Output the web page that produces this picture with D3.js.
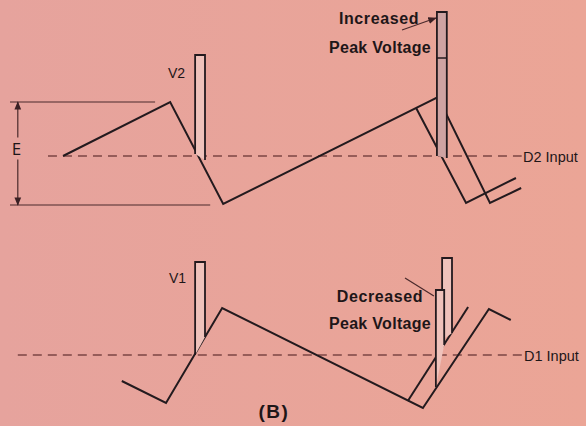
<!DOCTYPE html>
<html>
<head>
<meta charset="utf-8">
<script src="https://cdn.jsdelivr.net/npm/d3@7"></script>
<style>
  body { margin: 0; background: #e8a49b; }
  svg { display: block; }
  text { font-family: "Liberation Sans", Arial, sans-serif; fill: #1e1618; }
</style>
</head>
<body>
<div id="chart"></div>
<script>
// time in arbitrary units (0..100), volts relative to the diode input level

// upper panel (D2)
var d2Time = [10.2, 30.8, 41.0, 82.3, 92.3, 98.3];
var d2Volts = [0, 54, -48, 59, -47, -32];
var d2ShiftTime = [78.1, 87.7, 97.3];
var d2ShiftVolts = [48, -47, -22];

// lower panel (D1)
var d1Time = [21.5, 30.0, 40.8, 79.4, 92.1, 96.3];
var d1Volts = [-26, -48, 47, -53, 46, 35];
var d1ShiftTime = [76.5, 88.1];
var d1ShiftVolts = [-46, 48];

// pulses
var pulsePanel = ["D2", "D2", "D1", "D1", "D1"];
var pulseStart = [35.6, 82.1, 35.6, 83.1, 81.9];
var pulseEnd = [37.5, 84.0, 37.5, 85.0, 83.5];
var pulsePeak = [101, 144, 93, 97, 65];
var pulseBaseL = [2, 0, 0, 15, -32];
var pulseBaseR = [-4, -2, 18, 22, 10];

// E bracket (peak-to-peak of the D2 sawtooth)
var eTop = 54, eBottom = -49;
var oldPeak = 98; // mark on the increased pulse

var width = 586, height = 426;

var svg = d3.select("#chart").append("svg")
  .attr("width", width)
  .attr("height", height);

var grad = svg.append("defs").append("linearGradient")
  .attr("id", "bg").attr("x1", 0).attr("x2", 1).attr("y1", 0).attr("y2", 0);
grad.append("stop").attr("offset", "0%").attr("stop-color", "#e6a39d");
grad.append("stop").attr("offset", "100%").attr("stop-color", "#eba596");

svg.select("defs").append("marker")
  .attr("id", "arr")
  .attr("viewBox", "0 0 10 10")
  .attr("refX", 9).attr("refY", 5)
  .attr("markerWidth", 7).attr("markerHeight", 7)
  .attr("orient", "auto")
  .append("path")
  .attr("d", "M0,1L10,5L0,9Z")
  .style("fill", "#3a2024");

svg.append("rect").attr("width", width).attr("height", height).style("fill", "url(#bg)");

var x = d3.scaleLinear().domain([0, 100]).range([10, 530]);
var yTop = d3.scaleLinear().domain([-50, 150]).range([206, 6]);
var yBot = d3.scaleLinear().domain([-50, 150]).range([405, 205]);

var ink = "#231a1e";

function wave(times, volts, y) {
  var line = d3.line().x(function(d) { return x(d[0]); }).y(function(d) { return y(d[1]); });
  svg.append("path")
    .attr("d", line(d3.zip(times, volts)))
    .style("fill", "none")
    .style("stroke", ink)
    .style("stroke-width", 2)
    .style("stroke-linejoin", "miter");
}

//dashed input levels
function dashed(t0, t1, y) {
  svg.append("line")
    .attr("x1", x(t0)).attr("x2", x(t1))
    .attr("y1", y(0)).attr("y2", y(0))
    .style("stroke", "#7c4644")
    .style("stroke-width", 1.4)
    .style("stroke-dasharray", "9,6");
}
dashed(7.3, 98.4, yTop);
dashed(1.5, 98.6, yBot);

//E bracket
svg.append("line").attr("x1", x(0)).attr("x2", x(27.9))
  .attr("y1", yTop(eTop)).attr("y2", yTop(eTop))
  .style("stroke", "#4a2a2c").style("stroke-width", 1.2);
svg.append("line").attr("x1", x(0)).attr("x2", x(38.5))
  .attr("y1", yTop(eBottom)).attr("y2", yTop(eBottom))
  .style("stroke", "#4a2a2c").style("stroke-width", 1.2);
var eMid = (eTop + eBottom) / 2;
svg.append("line").attr("x1", x(1.5)).attr("x2", x(1.5))
  .attr("y1", yTop(eMid + 16)).attr("y2", yTop(eTop))
  .attr("marker-end", "url(#arr)")
  .style("stroke", "#4a2a2c").style("stroke-width", 1.2);
svg.append("line").attr("x1", x(1.5)).attr("x2", x(1.5))
  .attr("y1", yTop(eMid - 6)).attr("y2", yTop(eBottom))
  .attr("marker-end", "url(#arr)")
  .style("stroke", "#4a2a2c").style("stroke-width", 1.2);

//sawtooth waves
wave(d2Time, d2Volts, yTop);
wave(d2ShiftTime, d2ShiftVolts, yTop);
wave(d1Time, d1Volts, yBot);
wave(d1ShiftTime, d1ShiftVolts, yBot);

//pulses
pulsePeak.forEach(function(p, i) {
  var y = pulsePanel[i] === "D2" ? yTop : yBot;
  var x0 = x(pulseStart[i]), x1 = x(pulseEnd[i]);
  var pts = [[x0, y(pulseBaseL[i])], [x0, y(p)], [x1, y(p)], [x1, y(pulseBaseR[i])]];
  svg.append("path")
    .attr("d", d3.line()(pts))
    .style("fill", i === 1 ? "#cfa3a2" : "#efc2bb")
    .style("stroke", ink)
    .style("stroke-width", 1.8);
});

// old peak mark on the increased pulse
svg.append("line")
  .attr("x1", x(pulseStart[1])).attr("x2", x(pulseEnd[1]))
  .attr("y1", yTop(oldPeak)).attr("y2", yTop(oldPeak))
  .style("stroke", ink).style("stroke-width", 1.5);

//pointer lines
svg.append("line").attr("x1", 402).attr("y1", 30)
  .attr("x2", x(pulseStart[1]) - 1).attr("y2", 18)
  .attr("marker-end", "url(#arr)")
  .style("stroke", "#4a2a2c").style("stroke-width", 1.2);
svg.append("line").attr("x1", 405).attr("y1", 278)
  .attr("x2", x(pulseStart[4]) - 2).attr("y2", 296)
  .style("stroke", "#4a2a2c").style("stroke-width", 1.2);

//labels
function label(txt, px, py, size, weight, anchor, spacing, family) {
  var t = svg.append("text")
    .attr("x", px).attr("y", py)
    .attr("text-anchor", anchor || "start")
    .style("font-size", size + "px")
    .style("font-weight", weight || "normal")
    .style("letter-spacing", (spacing || 0) + "px")
    .text(txt);
  if (family) t.style("font-family", family);
}
label("Increased", 379, 24, 16, "bold", "middle", 0.6);
label("Peak Voltage", 380, 53, 16, "bold", "middle", 0.3);
label("Decreased", 380, 302, 16, "bold", "middle", 0.6);
label("Peak Voltage", 380, 329, 16, "bold", "middle", 0.3);
label("V2", 168, 78, 14);
label("V1", 169, 283, 14);
label("E", 12, 155, 16, "normal", "start", 0, "'Liberation Sans Narrow', 'DejaVu Sans Condensed', sans-serif");
label("D2 Input", 523, 162, 14.5);
label("D1 Input", 524, 361, 14.5);
label("(B)", 274, 418, 19, "bold", "middle", 1.5);
</script>
</body>
</html>
